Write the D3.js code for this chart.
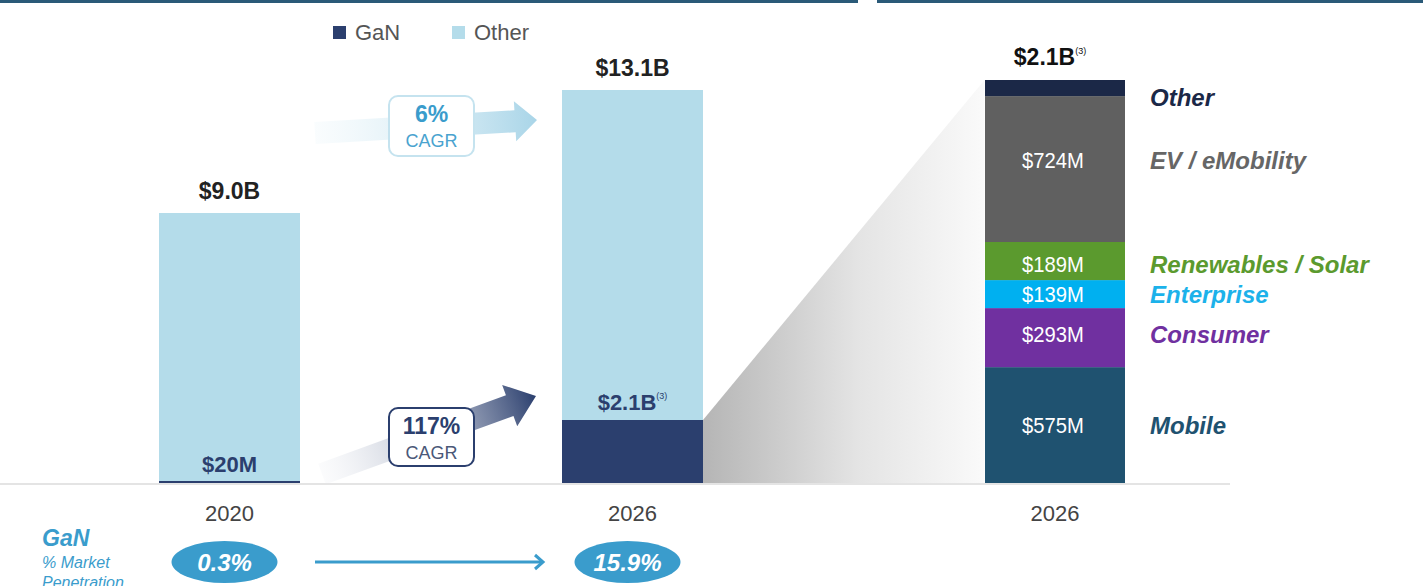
<!DOCTYPE html>
<html>
<head>
<meta charset="utf-8">
<script src="https://cdn.jsdelivr.net/npm/d3@7"></script>
<style>
  body { margin: 0; background: #fff; }
  svg { display: block; font-family: "Liberation Sans", Arial, sans-serif; }
</style>
</head>
<body>
<svg id="chart" width="1423" height="586"></svg>
<script>
// market size, $B
const years = ["2020", "2026"];
const ganValues = [0.02, 2.1];
const otherTotals = [9.0, 13.1];
const totalLabels = ["$9.0B", "$13.1B"];
const ganLabels = ["$20M", "$2.1B"];

// 2026 GaN split, $M (bottom to top)
const segments = ["Mobile", "Consumer", "Enterprise", "Renewables / Solar", "EV / eMobility", "Other"];
const segmentValues = [575, 293, 139, 189, 724, 80];
const segmentLabels = ["$575M", "$293M", "$139M", "$189M", "$724M", ""];
const segmentColors = ["#1f5270", "#7030a0", "#00b0f0", "#5b9a2e", "#606060", "#1b2847"];
const segmentTextColors = ["#1f5270", "#7030a0", "#1cb2ea", "#5b9a2e", "#666666", "#1b2847"];
// small vertical nudges for the labels, as laid out on the slide
const labelNudge = [0, -4, 0, 3, -9, 9];

const penetration = ["0.3%", "15.9%"];
const cagr = [{ value: "6%", label: "CAGR" }, { value: "117%", label: "CAGR" }];

const svg = d3.select("#chart");
const baseY = 483;
const ganColor = "#2b3f6e";
const otherColor = "#b4dcea";
const accent = "#3a9ccc";

// header rules
svg.append("rect").attr("x", 0).attr("y", 0).attr("width", 858).attr("height", 3).attr("fill", "#2a5a78");
svg.append("rect").attr("x", 877).attr("y", 0).attr("width", 546).attr("height", 3).attr("fill", "#2a5a78");

const defs = svg.append("defs");

// scales
const x = d3.scalePoint().domain(years).range([229.5, 632.5]);
const y = d3.scaleLinear().domain([0, 13.1]).range([baseY, 90]);
const yR = d3.scaleLinear().domain([0, d3.sum(segmentValues)]).range([baseY, 80]);
const barW = 141;
const xR = 1055;

// zoom wedge from 2026 GaN to breakdown bar
const wedge = defs.append("linearGradient").attr("id", "wedge").attr("x1", 0).attr("x2", 1).attr("y1", 0).attr("y2", 0);
wedge.append("stop").attr("offset", 0).attr("stop-color", "#b5b5b5");
wedge.append("stop").attr("offset", 0.55).attr("stop-color", "#e4e4e4");
wedge.append("stop").attr("offset", 1).attr("stop-color", "#fafafa");
const gx0 = x("2026") + barW / 2, gx1 = xR - barW / 2;
svg.append("path")
  .attr("d", `M${gx0},${y(ganValues[1])} L${gx1},${yR(d3.sum(segmentValues))} L${gx1},${baseY} L${gx0},${baseY} Z`)
  .attr("fill", "url(#wedge)");

// baseline
svg.append("line").attr("x1", 0).attr("x2", 1230).attr("y1", baseY + 1).attr("y2", baseY + 1)
  .attr("stroke", "#e4e4e4").attr("stroke-width", 2);

// left stacked bars
const left = svg.append("g");
left.selectAll("rect.other").data(years).join("rect")
  .attr("x", d => x(d) - barW / 2)
  .attr("y", (d, i) => y(otherTotals[i]))
  .attr("width", barW)
  .attr("height", (d, i) => y(0) - y(otherTotals[i]))
  .attr("fill", otherColor);
left.selectAll("rect.gan").data(years).join("rect")
  .attr("x", d => x(d) - barW / 2)
  .attr("y", (d, i) => Math.min(y(ganValues[i]), baseY - 2))
  .attr("width", barW)
  .attr("height", (d, i) => Math.max(y(0) - y(ganValues[i]), 2))
  .attr("fill", ganColor);

left.selectAll("text.total").data(years).join("text")
  .attr("x", d => x(d))
  .attr("y", (d, i) => y(otherTotals[i]) - 14)
  .attr("text-anchor", "middle")
  .attr("font-size", 23).attr("font-weight", "bold").attr("fill", "#222")
  .text((d, i) => totalLabels[i]);

const ganText = left.selectAll("text.gan").data(years).join("text")
  .attr("x", d => x(d))
  .attr("y", (d, i) => Math.min(y(ganValues[i]), baseY) - 10)
  .attr("text-anchor", "middle")
  .attr("font-size", 22).attr("font-weight", "bold").attr("fill", ganColor)
  .text((d, i) => ganLabels[i]);
ganText.filter((d, i) => i === 1).append("tspan")
  .attr("font-size", 9).attr("dy", -11).attr("font-weight", "normal").text("(3)");

// x labels
svg.selectAll("text.year").data(years.concat(["2026"])).join("text")
  .attr("x", (d, i) => i < 2 ? x(d) : xR)
  .attr("y", 521)
  .attr("text-anchor", "middle")
  .attr("font-size", 22).attr("fill", "#444")
  .text(d => d);

// legend
const legend = svg.append("g");
[["GaN", ganColor, 333], ["Other", otherColor, 452]].forEach(([name, color, lx]) => {
  legend.append("rect").attr("x", lx).attr("y", 26).attr("width", 13).attr("height", 13).attr("fill", color);
  legend.append("text").attr("x", lx + 22).attr("y", 40).attr("font-size", 22).attr("fill", "#555").text(name);
});

// CAGR arrows
function arrow(id, x0, y0, x1, y1, shaft, head, headLen, from, to) {
  const len = Math.hypot(x1 - x0, y1 - y0);
  const ang = Math.atan2(y1 - y0, x1 - x0) * 180 / Math.PI;
  const g = defs.append("linearGradient").attr("id", id).attr("x1", 0).attr("x2", 1).attr("y1", 0).attr("y2", 0);
  g.append("stop").attr("offset", 0).attr("stop-color", from).attr("stop-opacity", 0.15);
  g.append("stop").attr("offset", 1).attr("stop-color", to).attr("stop-opacity", 1);
  svg.append("path")
    .attr("transform", `translate(${x0},${y0}) rotate(${ang})`)
    .attr("d", `M0,${-shaft / 2} L${len - headLen},${-shaft / 2} L${len - headLen},${-head / 2} L${len},0 L${len - headLen},${head / 2} L${len - headLen},${shaft / 2} L0,${shaft / 2} Z`)
    .attr("fill", `url(#${id})`);
}
arrow("arrowTop", 315, 133, 537, 120, 22, 40, 22, "#dbeef6", "#a9d5e8");
arrow("arrowBot", 322, 474, 536, 396, 22, 44, 28, "#e4e7ee", "#2b3f6e");

function cagrBox(bx, by, w, h, stroke, c1, c2, d) {
  svg.append("rect").attr("x", bx).attr("y", by).attr("width", w).attr("height", h)
    .attr("rx", 9).attr("fill", "#fff").attr("stroke", stroke).attr("stroke-width", 2);
  svg.append("text").attr("x", bx + w / 2).attr("y", by + 26).attr("text-anchor", "middle")
    .attr("font-size", 23).attr("font-weight", "bold").attr("fill", c1).text(d.value);
  svg.append("text").attr("x", bx + w / 2).attr("y", by + 51).attr("text-anchor", "middle")
    .attr("font-size", 18).attr("fill", c2).text(d.label);
}
cagrBox(389, 96, 85, 60, "#c5e3ef", accent, "#4aa3cf", cagr[0]);
cagrBox(389, 408, 85, 58, ganColor, ganColor, "#4b5878", cagr[1]);

// 2026 breakdown bar
const stack = d3.cumsum(segmentValues);
const right = svg.append("g");
right.selectAll("rect").data(segments).join("rect")
  .attr("x", xR - 70)
  .attr("y", (d, i) => yR(stack[i]))
  .attr("width", 140)
  .attr("height", (d, i) => yR(stack[i] - segmentValues[i]) - yR(stack[i]))
  .attr("fill", (d, i) => segmentColors[i]);
right.selectAll("text.val").data(segments).join("text")
  .attr("x", xR - 2)
  .attr("y", (d, i) => yR(stack[i] - segmentValues[i] / 2) + labelNudge[i] + 8)
  .attr("text-anchor", "middle")
  .attr("font-size", 22).attr("fill", "#fff")
  .attr("transform-origin", `${xR - 2}px 0px`)
  .style("transform", "scaleX(0.92)")
  .text((d, i) => segmentLabels[i]);
right.selectAll("text.cat").data(segments).join("text")
  .attr("x", 1150)
  .attr("y", (d, i) => yR(stack[i] - segmentValues[i] / 2) + labelNudge[i] + 9)
  .attr("font-size", 24).attr("font-weight", "bold").attr("font-style", "italic")
  .attr("fill", (d, i) => segmentTextColors[i])
  .text(d => d);
const topLabel = svg.append("text").attr("x", 1050).attr("y", 65).attr("text-anchor", "middle")
  .attr("font-size", 23).attr("font-weight", "bold").attr("fill", "#111").text("$2.1B");
topLabel.append("tspan").attr("font-size", 9).attr("dy", -11).attr("font-weight", "normal").text("(3)");

// market penetration row
svg.append("text").attr("x", 42).attr("y", 546).attr("font-size", 23).attr("font-weight", "bold")
  .attr("font-style", "italic").attr("fill", accent).text("GaN");
svg.append("text").attr("x", 42).attr("y", 568).attr("font-size", 16).attr("font-style", "italic")
  .attr("fill", accent).text("% Market");
svg.append("text").attr("x", 42).attr("y", 588).attr("font-size", 16).attr("font-style", "italic")
  .attr("fill", accent).text("Penetration");

svg.selectAll("ellipse").data(years).join("ellipse")
  .attr("cx", d => x(d) - 5).attr("cy", 562).attr("rx", 53).attr("ry", 21).attr("fill", accent);
svg.selectAll("text.pen").data(years).join("text")
  .attr("x", d => x(d) - 5).attr("y", 571).attr("text-anchor", "middle")
  .attr("font-size", 24).attr("font-weight", "bold").attr("font-style", "italic").attr("fill", "#fff")
  .text((d, i) => penetration[i]);
svg.append("line").attr("x1", 315).attr("x2", 543).attr("y1", 562).attr("y2", 562)
  .attr("stroke", accent).attr("stroke-width", 3);
svg.append("path").attr("d", "M535,555 L543,562 L535,569").attr("fill", "none")
  .attr("stroke", accent).attr("stroke-width", 3);
</script>
</body>
</html>
